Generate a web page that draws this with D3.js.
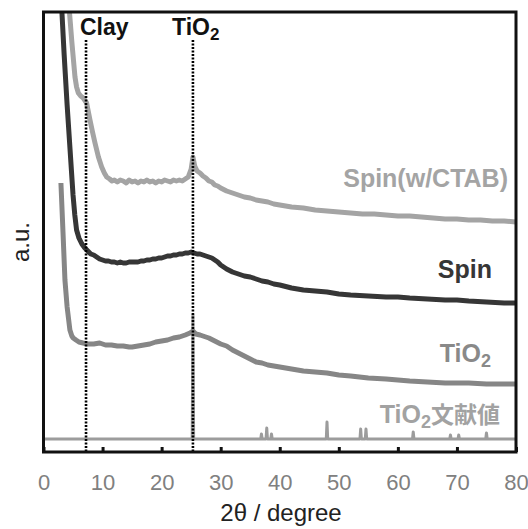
<!DOCTYPE html>
<html><head><meta charset="utf-8">
<script src="https://cdn.jsdelivr.net/npm/d3@7"></script>
<style>
html,body{margin:0;padding:0;background:#fff;}
svg{display:block;font-family:"Liberation Sans",Arial,sans-serif;}
</style></head>
<body><svg id="chart" width="528" height="529"></svg>
<script>
// ---- data (2θ in degrees, intensity in a.u.) ----
const xTicks = [0,10,20,30,40,50,60,70,80];
const markerLines = [{name:"Clay", x:7.2},{name:"TiO2", x:25.3}];

const ctab = [[4.2,462],[4.37,442],[4.8,410],[5.33,375],[5.6,365],[5.9,359],[6.3,356],[6.74,354],[7.3,349],[7.87,332],[8.3,320],[8.72,309],[9.3,295],[9.85,285],[10.3,279],[10.7,275],[11.2,273],[11.6,271],[12,272],[12.5,270],[13,272],[13.5,271],[14,269],[14.5,272],[15,270],[15.5,271],[16,269],[16.5,271],[17,270],[17.5,272],[18,270],[18.5,271],[19,269],[19.5,271],[20,270],[20.5,272],[21,271],[21.5,270],[22,272],[22.5,271],[23,272],[23.5,271],[24,273],[24.5,275],[25.0,283],[25.3,295],[25.6,286],[26,281],[26.5,279],[27,276],[27.5,274],[28,271],[28.5,270],[29,267],[29.5,266],[30,264],[31,261],[32,259],[33,257],[34,255],[35,254],[36,252],[37,251],[38,250],[39,248],[40,247],[42,245],[44,244],[46,242],[48,241],[50,240],[52,239],[54,238],[56,238],[58,237],[60,236],[62,236],[64,235],[66,234],[68,233],[70,233],[72,232],[74,232],[76,231],[78,231],[80,230]];

const spin = [[3.0,462],[3.1,442],[3.5,397],[4.0,347],[4.5,302],[5.0,257],[5.3,237],[5.6,222],[6.0,214],[6.5,208],[7.0,204],[7.5,201],[8,198],[8.5,197],[9,195],[9.5,193],[10,192],[10.5,191],[11,191],[11.5,190],[12,190],[12.5,189],[13,190],[13.5,189],[14,189],[14.5,190],[15,190],[15.5,190],[16,190],[16.5,191],[17,191],[17.5,192],[18,192],[18.5,193],[19,193],[19.5,194],[20,194],[20.5,195],[21,196],[21.5,196],[22,197],[22.5,197],[23,198],[23.5,198],[24,199],[24.5,199],[25,200],[25.5,199],[26,198],[26.5,198],[27,197],[27.5,196],[28,195],[28.5,194],[29,192],[29.5,190],[30,187],[30.5,185],[31,183],[32,180],[33,178],[34,176],[35,175],[36,173],[37,171],[38,170],[39,168],[40,167],[42,164],[44,162],[46,161],[48,160],[50,158],[52,157],[55,156],[58,155],[60,155],[62,154],[65,153],[68,152],[70,152],[72,151],[75,150],[78,149],[80,149]];

const tio2 = [[2.95,269],[3.3,220],[3.63,172],[4.0,145],[4.47,122],[4.8,116],[5.03,114],[5.5,112],[6.0,110],[6.7,109],[7.5,108],[8.5,108],[9.5,109],[10.5,107],[11.5,107],[12.5,106],[13.5,106],[14.5,105],[15,105],[16,106],[17,107],[18,108],[19,110],[20,111],[21,112],[22,114],[23,115],[24,117],[24.8,119],[25.3,121],[25.8,118],[26.5,117],[27,116],[28,114],[29,111],[30,108],[31,106],[32,102],[33,99],[34,96],[35,93],[36,90],[37,89],[38,87],[40,85],[42,83],[44,81],[46,80],[48,79],[50,77],[52,76],[55,74],[58,73],[60,72],[62,71],[65,70],[68,69],[70,69],[72,69],[75,68],[78,68],[80,68]];

// reference (literature) pattern: baseline with peaks
const refBase = 13;
const refPeaks = [[25.3,137],[36.9,18],[37.8,24],[38.6,18],[48.0,30],[53.7,23],[54.6,23],[62.6,20],[68.9,17],[70.3,17],[75.0,19]];

// series label names and their baseline level (a.u.)
const labelNames = ["Spin(w/CTAB)","Spin","TiO2","TiO2文献値"];
const labelLevels = [265,174,90,29];
const labelColors = ["#a4a4a4","#363636","#898989","#a2a2a2"];

// ---- layout ----
const svg = d3.select("#chart");
const X0=43.5, X1=516, Y0=12, Y1=452;
const x = d3.scaleLinear().domain([0,80]).range([X0,X1]);
const y = d3.scaleLinear().domain([0,440]).range([Y1,Y0]);

svg.append("clipPath").attr("id","clip").append("rect")
  .attr("x",X0).attr("y",Y0).attr("width",X1-X0).attr("height",Y1-Y0);

const line = d3.line().x(d=>x(d[0])).y(d=>y(d[1]));

const refPts = [[0,refBase]];
refPeaks.forEach(p=>{
  const w = 0.12;
  refPts.push([p[0]-w,refBase]);
  refPts.push([p[0],p[1]]);
  refPts.push([p[0]+w,refBase]);
});
refPts.push([80,refBase]);

const g = svg.append("g").attr("clip-path","url(#clip)");
g.append("path").datum(refPts).attr("d",line)
  .attr("fill","none").attr("stroke","#9c9c9c").attr("stroke-width",3).attr("stroke-linejoin","round");
g.append("path").datum(tio2).attr("d",line)
  .attr("fill","none").attr("stroke","#868686").attr("stroke-width",5).attr("stroke-linejoin","round");
g.append("path").datum(spin).attr("d",line)
  .attr("fill","none").attr("stroke","#363636").attr("stroke-width",5).attr("stroke-linejoin","round");
g.append("path").datum(ctab).attr("d",line)
  .attr("fill","none").attr("stroke","#a4a4a4").attr("stroke-width",5).attr("stroke-linejoin","round");

// dotted marker lines
markerLines.forEach(m=>{
  svg.append("line").attr("x1",x(m.x)).attr("x2",x(m.x)).attr("y1",40).attr("y2",Y1)
    .attr("stroke","#000").attr("stroke-width",2.6).attr("stroke-dasharray","2,1.5");
});

// top labels
svg.append("text").attr("x",80).attr("y",35).attr("font-size",23).attr("font-weight","bold")
  .attr("fill","#111").text("Clay");
const tt = svg.append("text").attr("x",172).attr("y",35).attr("font-size",23).attr("font-weight","bold").attr("fill","#111");
tt.append("tspan").text("TiO");
tt.append("tspan").attr("font-size",17).attr("dy",5).text("2");

// series labels (right-aligned)
const ends = [508,492,491,500];
labelNames.forEach((name,i)=>{
  const t = svg.append("text").attr("x",ends[i]).attr("y",y(labelLevels[i])).attr("text-anchor","end")
    .attr("font-size",25).attr("font-weight","bold").attr("fill",labelColors[i]);
  if(name.startsWith("TiO2")){
    t.append("tspan").text("TiO");
    t.append("tspan").attr("font-size",18).attr("dy",5).text("2");
    if(name.length>4){
      t.append("tspan").attr("dy",-5).attr("font-family","'Noto Sans CJK JP',sans-serif").attr("font-size",23).text(name.slice(4));
    }
  } else {
    t.text(name);
  }
});

// frame
svg.append("rect").attr("x",X0).attr("y",Y0).attr("width",X1-X0).attr("height",Y1-Y0)
  .attr("fill","none").attr("stroke","#111").attr("stroke-width",3);

// x axis ticks (inward) and labels
const ax = svg.append("g").attr("transform",`translate(0,${Y1})`)
  .call(d3.axisBottom(x).tickValues(xTicks).tickSize(-5).tickPadding(22).tickFormat(d3.format("d")));
ax.select(".domain").remove();
ax.selectAll(".tick line").attr("stroke","#111").attr("stroke-width",3);
ax.selectAll(".tick text").attr("font-size",22).attr("fill","#808080")
  .attr("font-family","'Liberation Sans',Arial,sans-serif");

// axis titles
svg.append("text").attr("x",281).attr("y",521).attr("text-anchor","middle")
  .attr("font-size",24).attr("fill","#222").text("2θ / degree");
svg.append("text").attr("transform","translate(29,242) rotate(-90)").attr("text-anchor","middle")
  .attr("font-size",24).attr("fill","#222").text("a.u.");
</script></body></html>
